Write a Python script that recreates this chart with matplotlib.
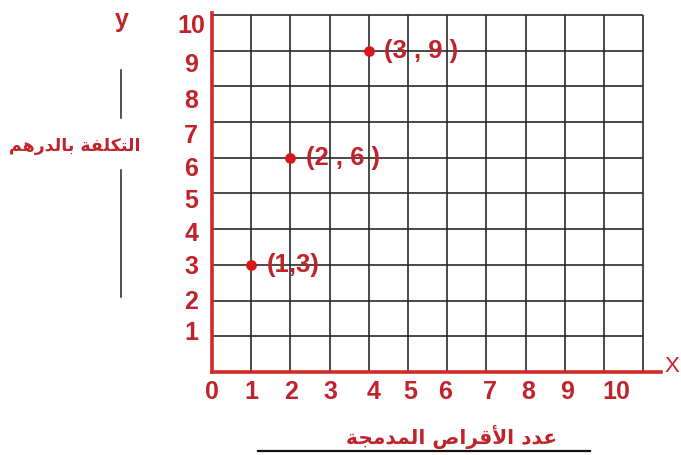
import matplotlib
matplotlib.use("Agg")
import matplotlib.pyplot as plt
from matplotlib.lines import Line2D

# points as drawn on the grid (column, row) and the text written beside them
point_cols = [1, 2, 4]
point_rows = [3, 6, 9]
point_labels = ["(1,3)", "(2 , 6 )", "(3 , 9 )"]

# tick labels sit slightly off the grid lines in the original drawing
x_tick_pos = [0, 1, 2.02, 3.01, 4.11, 5.05, 5.94, 7.09, 8.06, 9.05, 10.3]
x_tick_labels = ["0", "1", "2", "3", "4", "5", "6", "7", "8", "9", "10"]
y_tick_pos = [1.15, 2.04, 3.0, 3.92, 4.87, 5.74, 6.69, 7.67, 8.66, 9.75]
y_tick_labels = ["1", "2", "3", "4", "5", "6", "7", "8", "9", "10"]

grid_cols = 11
grid_rows = 10

x_title = "عدد الأقراص المدمجة"
y_title = "التكلفة بالدرهم"

RED = "#cf2a27"
TEXT_RED = "#c0232b"

# isolated, final, initial, medial presentation forms
FORMS = {
    "ا": ("\uFE8D", "\uFE8E", None, None),
    "أ": ("\uFE83", "\uFE84", None, None),
    "ب": ("\uFE8F", "\uFE90", "\uFE91", "\uFE92"),
    "ة": ("\uFE93", "\uFE94", None, None),
    "ت": ("\uFE95", "\uFE96", "\uFE97", "\uFE98"),
    "ج": ("\uFE9D", "\uFE9E", "\uFE9F", "\uFEA0"),
    "د": ("\uFEA9", "\uFEAA", None, None),
    "ر": ("\uFEAD", "\uFEAE", None, None),
    "ص": ("\uFEB9", "\uFEBA", "\uFEBB", "\uFEBC"),
    "ع": ("\uFEC9", "\uFECA", "\uFECB", "\uFECC"),
    "ف": ("\uFED1", "\uFED2", "\uFED3", "\uFED4"),
    "ق": ("\uFED5", "\uFED6", "\uFED7", "\uFED8"),
    "ك": ("\uFED9", "\uFEDA", "\uFEDB", "\uFEDC"),
    "ل": ("\uFEDD", "\uFEDE", "\uFEDF", "\uFEE0"),
    "م": ("\uFEE1", "\uFEE2", "\uFEE3", "\uFEE4"),
    "ه": ("\uFEE9", "\uFEEA", "\uFEEB", "\uFEEC"),
}
LAM_ALEF = {"ا": ("\uFEFB", "\uFEFC"), "أ": ("\uFEF7", "\uFEF8")}


def shape_arabic(text: str) -> str:
    """Join letters into their contextual forms and return them in visual order."""
    def dual(c):
        return c in FORMS and FORMS[c][2] is not None

    out = []
    i = 0
    while i < len(text):
        c = text[i]
        if c not in FORMS:
            out.append(c)
            i += 1
            continue
        prev_joins = i > 0 and dual(text[i - 1])
        if c == "ل" and i + 1 < len(text) and text[i + 1] in LAM_ALEF:
            iso, fin = LAM_ALEF[text[i + 1]]
            out.append(fin if prev_joins else iso)
            i += 2
            continue
        next_joins = dual(c) and i + 1 < len(text) and text[i + 1] in FORMS
        iso, fin, ini, med = FORMS[c]
        if prev_joins and next_joins:
            out.append(med)
        elif prev_joins:
            out.append(fin)
        elif next_joins:
            out.append(ini)
        else:
            out.append(iso)
        i += 1
    return "".join(reversed(out))


W, H = 681, 455
fig = plt.figure(figsize=(W / 100, H / 100), dpi=100)
ax = fig.add_axes([212 / W, 83 / H, 449 / W, 359 / H])
ax.set_xlim(0, 11.45)
ax.set_ylim(0, 10.05)

ax.vlines(range(1, grid_cols + 1), 0, grid_rows, color="#2b2b2b", lw=1.2, zorder=1)
ax.hlines(range(1, grid_rows + 1), 0, grid_cols, color="#2b2b2b", lw=1.2, zorder=1)

for side in ["top", "right"]:
    ax.spines[side].set_visible(False)
for side in ["left", "bottom"]:
    ax.spines[side].set_color(RED)
    ax.spines[side].set_linewidth(2.6)
    ax.spines[side].set_zorder(3)

ax.set_xticks(x_tick_pos, x_tick_labels)
ax.set_yticks(y_tick_pos, y_tick_labels)
ax.tick_params(length=0, labelsize=18, labelcolor=TEXT_RED)
ax.tick_params(axis="x", pad=6)
ax.tick_params(axis="y", pad=15)
for lab in ax.get_xticklabels() + ax.get_yticklabels():
    lab.set_fontweight("bold")
    lab.set_fontfamily("Liberation Sans")
for lab in ax.get_yticklabels():
    lab.set_horizontalalignment("center")

ax.scatter(point_cols, point_rows, s=45, color="#d8161b", zorder=5, clip_on=False)
for px, py, txt in zip(point_cols, point_rows, point_labels):
    ax.annotate(txt, (px, py), xytext=(11, 0), textcoords="offset points",
                ha="left", va="center", fontsize=18.5, fontweight="bold",
                family="Liberation Sans", color=TEXT_RED, zorder=6)

arabic_font = ["DejaVu Sans"]
ax.set_ylabel(shape_arabic(y_title), rotation=0, fontsize=12.5, fontweight="bold",
              family=arabic_font, color=TEXT_RED, ha="center", va="center")
ax.yaxis.set_label_coords((75 - 212) / 449, (372 - 146) / 359)
ax.set_xlabel(shape_arabic(x_title), fontsize=14.5, fontweight="bold",
              family=arabic_font, color=TEXT_RED, ha="center", va="center")
ax.xaxis.set_label_coords((452 - 212) / 449, (372 - 437) / 359)

fig.text(122 / W, 1 - 20 / H, "y", fontsize=18, fontweight="bold",
         family="Liberation Sans", color=TEXT_RED, ha="center", va="center")
fig.text(672 / W, 1 - 366 / H, "X", fontsize=16,
         family="Liberation Sans", color=TEXT_RED, ha="center", va="center")

# black rules beside the axis titles
fig.add_artist(Line2D([121 / W, 121 / W], [1 - 70 / H, 1 - 118 / H], color="#222222", lw=1.1))
fig.add_artist(Line2D([121 / W, 121 / W], [1 - 170 / H, 1 - 297 / H], color="#222222", lw=1.1))
fig.add_artist(Line2D([258 / W, 590 / W], [1 - 451 / H, 1 - 451 / H], color="#111111", lw=1.6))

fig.savefig("out.png", dpi=100, facecolor="white")
